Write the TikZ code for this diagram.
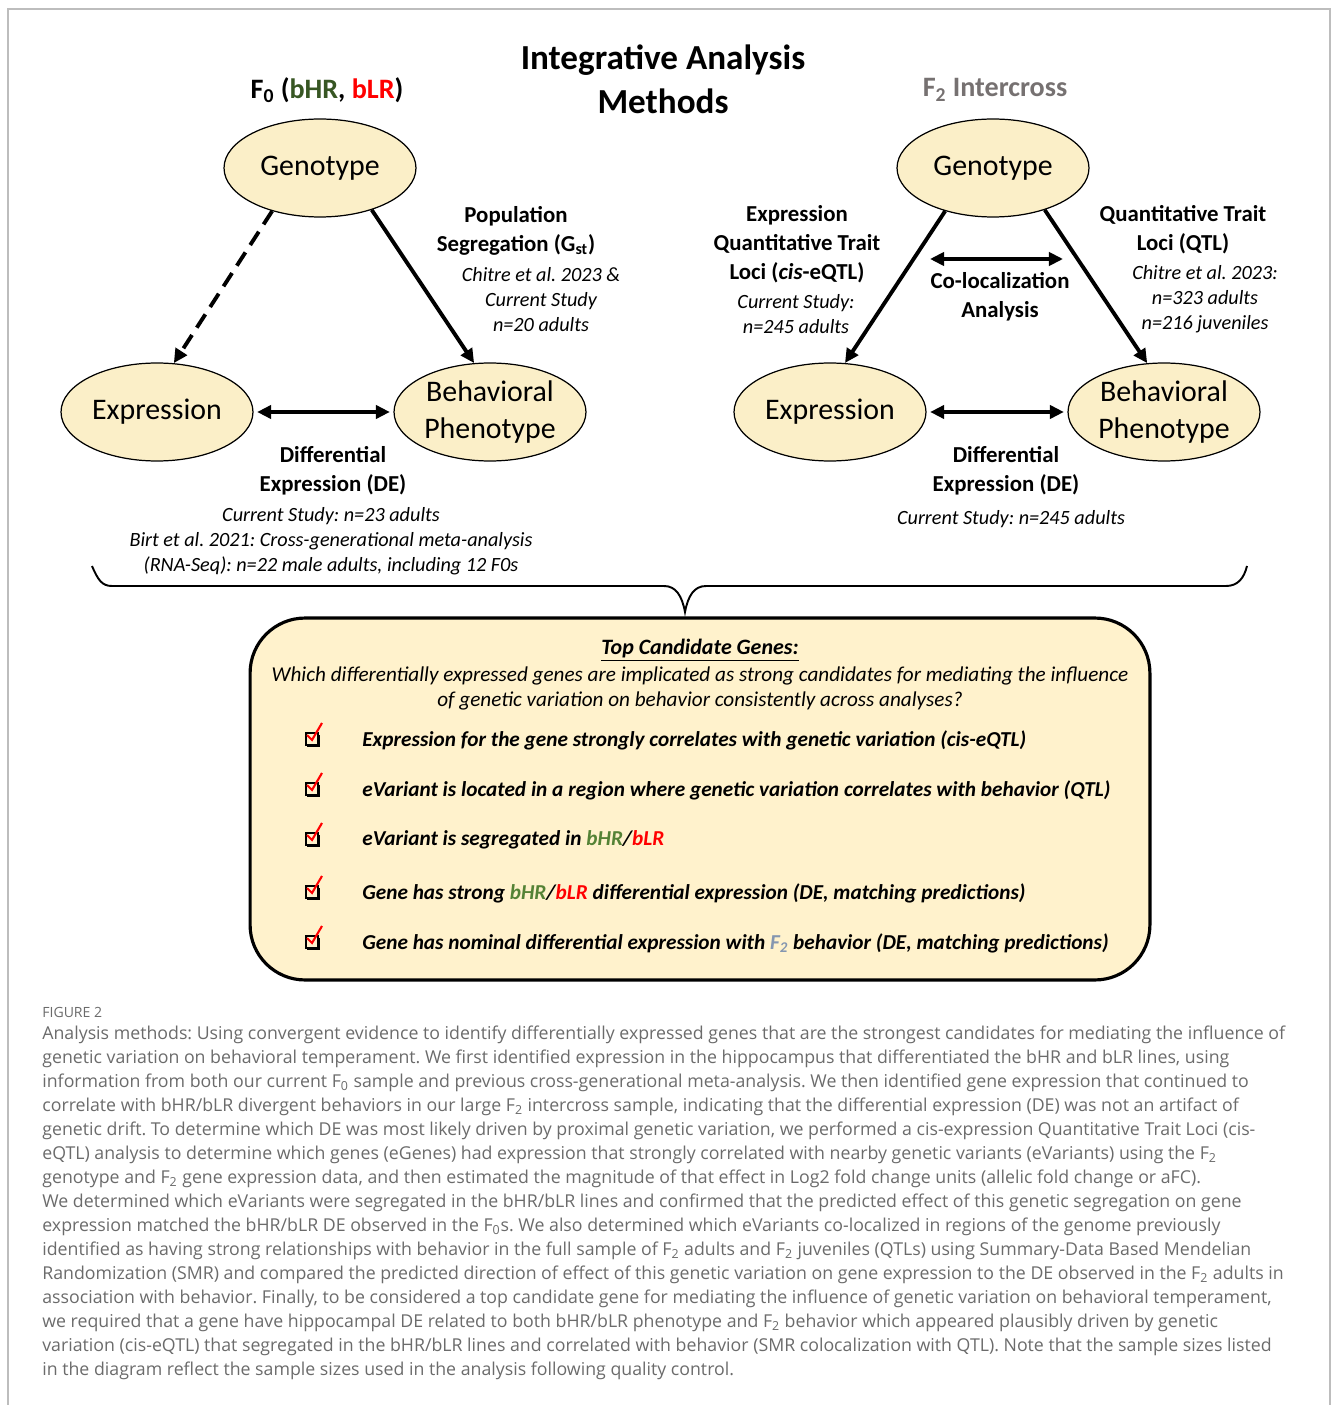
\documentclass[tikz,border=0pt]{standalone}
\usepackage{fontspec}
\usepackage{xcolor}
\usetikzlibrary{shapes.geometric, arrows.meta, positioning}
\setmainfont{Carlito}
\newfontfamily\capfont{Open Sans}
\frenchspacing

\definecolor{ovalfill}{HTML}{FBEFC8}
\definecolor{boxfill}{HTML}{FFF2CC}
\definecolor{hrgreen}{HTML}{375623}
\definecolor{hrgreenb}{HTML}{548235}
\definecolor{lrred}{HTML}{FF0000}
\definecolor{ftwogray}{HTML}{767171}
\definecolor{ftwoblue}{HTML}{8496B0}
\definecolor{capgray}{HTML}{6B6B6B}
\definecolor{framegray}{HTML}{BDBDBD}

\tikzset{
  oval/.style={ellipse, draw, line width=0.7pt, fill=ovalfill, minimum width=3.84cm,
    minimum height=1.96cm, inner sep=0pt, align=center, font=\fontsize{17}{21}\selectfont},
  lbl/.style={align=center, font=\bfseries\fontsize{13}{16.5}\selectfont},
  cite/.style={align=center, font=\itshape\fontsize{11.5}{14.2}\selectfont},
  link/.style={line width=2.2pt, -{Triangle[length=8pt,width=7.5pt]}},
  both/.style={line width=2.2pt, {Triangle[length=8pt,width=7.5pt]}-{Triangle[length=8pt,width=7.5pt]}},
  item/.style={anchor=west, inner sep=0pt, font=\bfseries\itshape\fontsize{12.1}{14}\selectfont}
}

\begin{document}
\begin{tikzpicture}[x=0.02cm, y=-0.02cm]
    \useasboundingbox (0,0) rectangle (1331,1405);
    % Frame
    \draw[framegray, line width=0.9pt] (8,1405) -- (8,9) -- (1330,9) -- (1330,1405);

    % Title
    \node[align=center, font=\bfseries\fontsize{20}{25}\selectfont] (title) at (663,79) {Integrative Analysis\\Methods};
    \node[font=\bfseries\fontsize{16}{19}\selectfont] (fzero) at (327,90)
      {F\textsubscript{0} (\textcolor{hrgreen}{bHR}, \textcolor{lrred}{bLR})};
    \node[font=\bfseries\fontsize{16}{19}\selectfont, text=ftwogray] (ftwo) at (995,90) {F\textsubscript{2} Intercross};

    % F0 triangle
    \node[oval] (gL) at (320,168) {Genotype};
    \node[oval] (eL) at (157,412) {Expression};
    \node[oval] (bL) at (490,412) {Behavioral\\Phenotype};
    \draw[link, dash pattern=on 9pt off 5pt] (gL.222) -- (eL.71);
    \draw[link] (gL.321) -- (bL.108);
    \draw[both, shorten <=2pt, shorten >=2pt] (eL) -- (bL);

    \node[lbl] (popseg) at (516,231) {Population\\Segregation (G\textsubscript{st})};
    \node[cite] (popcite) at (541,300) {Chitre et al. 2023 \&\\Current Study\\n=20 adults};
    \node[lbl] (deL) at (333,471) {Differential\\Expression (DE)};
    \node[cite] (deLcite) at (331,541) {Current Study: n=23 adults\\Birt et al. 2021: Cross-generational meta-analysis\\(RNA-Seq): n=22 male adults, including 12 F0s};

    % F2 triangle
    \node[oval] (gR) at (993,168) {Genotype};
    \node[oval] (eR) at (830,412) {Expression};
    \node[oval] (bR) at (1164,412) {Behavioral\\Phenotype};
    \draw[link] (gR.222) -- (eR.73);
    \draw[link] (gR.321) -- (bR.109);
    \draw[both, shorten <=2pt, shorten >=2pt] (eR) -- (bR);
    \coordinate (coL) at (930,259);
    \coordinate (coR) at (1063,259);
    \draw[both] (coL) -- (coR);

    \node[lbl] (eqtl) at (797,244) {Expression\\Quantitative Trait\\Loci (\textit{cis}-eQTL)};
    \node[cite] (eqtlcite) at (796,314) {Current Study:\\n=245 adults};
    \node[lbl] (coloc) at (1000,297) {Co-localization\\Analysis};
    \node[lbl] (qtl) at (1183,230) {Quantitative Trait\\Loci (QTL)};
    \node[cite] (qtlcite) at (1205,299) {Chitre et al. 2023:\\n=323 adults\\n=216 juveniles};
    \node[lbl] (deR) at (1006,471) {Differential\\Expression (DE)};
    \node[cite] (deRcite) at (1011,519) {Current Study: n=245 adults};

    % Brace
    \draw[line width=1.1pt] (92,566) .. controls (98,580) and (102,586) .. (112,586) -- (664,586)
      .. controls (676,586) and (682,596) .. (685,612)
      .. controls (688,596) and (694,586) .. (706,586) -- (1226,586)
      .. controls (1238,586) and (1244,578) .. (1247,566);

    % Candidate box
    \node[draw, line width=1.8pt, fill=boxfill, rounded corners=1.1cm, minimum width=18cm,
      minimum height=7.24cm] (box) at (700,799) {};
    \node[font=\bfseries\itshape\fontsize{12.5}{14}\selectfont] (boxtitle) at (700,650) {\underline{Top Candidate Genes:}};
    \node[align=center, font=\itshape\fontsize{12.05}{14.2}\selectfont] (question) at (700,688)
      {Which differentially expressed genes are implicated as strong candidates for mediating the influence\\
       of genetic variation on behavior consistently across analyses?};
    \foreach \y in {740,790,840,893,943} {
      \draw[line width=0.8pt] (306,\y-7) rectangle (318,\y+5);
      \draw[line width=1.6pt] (307,\y+6) -- (319,\y+6) -- (319,\y-5);
      \draw[lrred, line width=1.2pt] (307,\y-5) -- (312,\y) -- (322,\y-17);
    }
    \node[item] (item1) at (362,740) {Expression for the gene strongly correlates with genetic variation (cis-eQTL)};
    \node[item] (item2) at (362,790) {eVariant is located in a region where genetic variation correlates with behavior (QTL)};
    \node[item] (item3) at (362,840) {eVariant is segregated in \textcolor{hrgreenb}{bHR}/\textcolor{lrred}{bLR}};
    \node[item] (item4) at (362,893) {Gene has strong \textcolor{hrgreenb}{bHR}/\textcolor{lrred}{bLR} differential expression (DE, matching predictions)};
    \node[item] (item5) at (362,943) {Gene has nominal differential expression with \textcolor{ftwoblue}{F\textsubscript{2}} behavior (DE, matching predictions)};

    % Caption
    \node[anchor=west, inner sep=0pt, text=capgray, font=\capfont\fontsize{8}{10}\selectfont] (fig) at (42,1012) {FIGURE 2};
    \node[anchor=north west, inner sep=0pt, align=left, text=capgray, font=\capfont\fontsize{10.1}{13.66}\selectfont] (caption) at (42,1026)
      {Analysis methods: Using convergent evidence to identify differentially expressed genes that are the strongest candidates for mediating the influence of\\
       genetic variation on behavioral temperament. We first identified expression in the hippocampus that differentiated the bHR and bLR lines, using\\
       information from both our current F\textsubscript{0} sample and previous cross-generational meta-analysis. We then identified gene expression that continued to\\
       correlate with bHR/bLR divergent behaviors in our large F\textsubscript{2} intercross sample, indicating that the differential expression (DE) was not an artifact of\\
       genetic drift. To determine which DE was most likely driven by proximal genetic variation, we performed a cis-expression Quantitative Trait Loci (cis-\\
       eQTL) analysis to determine which genes (eGenes) had expression that strongly correlated with nearby genetic variants (eVariants) using the F\textsubscript{2}\\
       genotype and F\textsubscript{2} gene expression data, and then estimated the magnitude of that effect in Log2 fold change units (allelic fold change or aFC).\\
       We determined which eVariants were segregated in the bHR/bLR lines and confirmed that the predicted effect of this genetic segregation on gene\\
       expression matched the bHR/bLR DE observed in the F\textsubscript{0}s. We also determined which eVariants co-localized in regions of the genome previously\\
       identified as having strong relationships with behavior in the full sample of F\textsubscript{2} adults and F\textsubscript{2} juveniles (QTLs) using Summary-Data Based Mendelian\\
       Randomization (SMR) and compared the predicted direction of effect of this genetic variation on gene expression to the DE observed in the F\textsubscript{2} adults in\\
       association with behavior. Finally, to be considered a top candidate gene for mediating the influence of genetic variation on behavioral temperament,\\
       we required that a gene have hippocampal DE related to both bHR/bLR phenotype and F\textsubscript{2} behavior which appeared plausibly driven by genetic\\
       variation (cis-eQTL) that segregated in the bHR/bLR lines and correlated with behavior (SMR colocalization with QTL). Note that the sample sizes listed\\
       in the diagram reflect the sample sizes used in the analysis following quality control.};
\end{tikzpicture}
\end{document}
